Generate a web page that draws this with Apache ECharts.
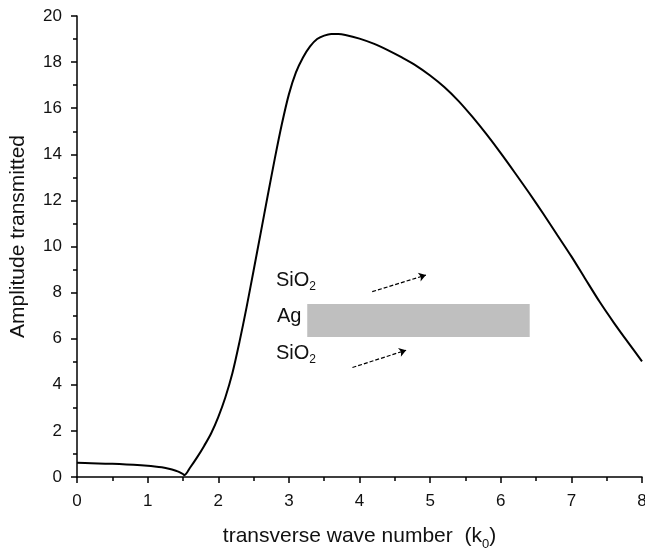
<!DOCTYPE html>
<html>
<head>
    <meta charset="utf-8">
    <script src="https://cdn.jsdelivr.net/npm/echarts@6/dist/echarts.min.js"></script>
    <title>Amplitude transmitted</title>
    <style>
        html, body { margin: 0; padding: 0; background: #fff; }
    </style>
</head>
<body>
    <div id="main" style="width: 645px;height:552px;"></div>
    <script type="text/javascript">
    // transverse wave number (k0) vs amplitude transmitted
    var kx = [0, 0.2, 0.4, 0.6, 0.8, 1.0, 1.1, 1.2, 1.3, 1.4, 1.45, 1.5, 1.52,
        1.6, 1.7, 1.8, 1.9, 2.0, 2.1, 2.2, 2.3, 2.4, 2.5, 2.6, 2.7, 2.8, 2.9, 3.0,
        3.1, 3.2, 3.3, 3.4, 3.5, 3.6, 3.7, 3.8, 4.0, 4.2, 4.4, 4.6, 4.8, 5.0, 5.2,
        5.4, 5.6, 5.8, 6.0, 6.2, 6.4, 6.6, 6.8, 7.0, 7.2, 7.4, 7.6, 7.8, 8.0];
    var amp = [0.62, 0.6, 0.58, 0.56, 0.53, 0.49, 0.46, 0.42, 0.36, 0.27, 0.21, 0.13, 0.08,
        0.4, 0.85, 1.35, 1.9, 2.6, 3.45, 4.5, 5.85, 7.35, 8.95, 10.57, 12.2, 13.8, 15.3, 16.6,
        17.55, 18.2, 18.68, 19.0, 19.15, 19.22, 19.22, 19.18, 19.02, 18.8, 18.52, 18.2, 17.85, 17.42, 16.92,
        16.32, 15.62, 14.86, 14.05, 13.2, 12.33, 11.43, 10.5, 9.57, 8.58, 7.6, 6.7, 5.85, 5.02];

    // inset: Ag slab and the two SiO2 arrows (data coords)
    var slab = [[3.26, 6.07], [6.41, 7.51]];
    var arrowTop = [[4.18, 8.04], [4.94, 8.76]];
    var arrowBottom = [[3.9, 4.75], [4.66, 5.5]];

    var myChart = echarts.init(document.getElementById('main'));

    var pts = [];
    for (var i = 0; i < kx.length; i++) {
        pts.push([kx[i], amp[i]]);
    }

    var fam = 'Liberation Sans, Arial, sans-serif';
    var subRich = { s: { fontSize: 12, padding: [14, 0, 0, 0], fontFamily: fam, color: '#111', fill: '#111' } };

    var option = {
        animation: false,
        grid: { left: 77, right: 3, top: 16, bottom: 75, outerBoundsMode: 'none', containLabel: false },
        xAxis: {
            type: 'value',
            min: 0, max: 8, interval: 1,
            name: 'transverse wave number  (k{s|0})',
            nameLocation: 'middle',
            nameGap: 45,
            nameTextStyle: {
                fontFamily: fam, fontSize: 21, color: '#111',
                rich: { s: { fontSize: 13, padding: [16, 0, 0, 0], fontFamily: fam, color: '#111' } }
            },
            axisLine: { onZero: false, lineStyle: { color: '#000', width: 1.5 } },
            axisTick: { show: true, inside: false, length: 6, lineStyle: { color: '#000', width: 1.5 } },
            minorTick: { show: true, splitNumber: 2, length: 4, lineStyle: { color: '#000', width: 1.5 } },
            axisLabel: { fontFamily: fam, fontSize: 17, color: '#111', margin: 16 },
            splitLine: { show: false }
        },
        yAxis: {
            type: 'value',
            min: 0, max: 20, interval: 2,
            name: 'Amplitude transmitted',
            nameLocation: 'middle',
            nameGap: 48,
            nameTextStyle: { fontFamily: fam, fontSize: 21, color: '#111', padding: [0, 0, 0, 20] },
            axisLine: { show: true, onZero: false, lineStyle: { color: '#000', width: 1.5 } },
            axisTick: { show: true, inside: false, length: 6, lineStyle: { color: '#000', width: 1.5 } },
            minorTick: { show: true, splitNumber: 2, length: 4, lineStyle: { color: '#000', width: 1.5 } },
            axisLabel: { fontFamily: fam, fontSize: 17, color: '#111', margin: 15 },
            splitLine: { show: false }
        },
        series: [{
            type: 'line',
            data: pts,
            showSymbol: false,
            smooth: 0.3,
            lineStyle: { color: '#000', width: 2 },
            markArea: {
                silent: true,
                itemStyle: { color: '#bfbfbf' },
                data: [[{ coord: slab[0] }, { coord: slab[1] }]]
            },
            markLine: {
                silent: true,
                symbol: ['none', 'arrow'],
                symbolSize: 7,
                label: { show: false },
                lineStyle: { color: '#000', type: [4, 2], width: 1.2 },
                data: [
                    [{ coord: arrowTop[0] }, { coord: arrowTop[1] }],
                    [{ coord: arrowBottom[0] }, { coord: arrowBottom[1] }]
                ]
            }
        }],
        graphic: [
            {
                type: 'text', left: 276, top: 270,
                style: { text: 'SiO{s|2}', font: '20px ' + fam, fill: '#111', rich: subRich }
            },
            {
                type: 'text', left: 277, top: 306,
                style: { text: 'Ag', font: '20px ' + fam, fill: '#111' }
            },
            {
                type: 'text', left: 276, top: 343,
                style: { text: 'SiO{s|2}', font: '20px ' + fam, fill: '#111', rich: subRich }
            }
        ]
    };
    myChart.setOption(option);
    </script>
</body>
</html>
